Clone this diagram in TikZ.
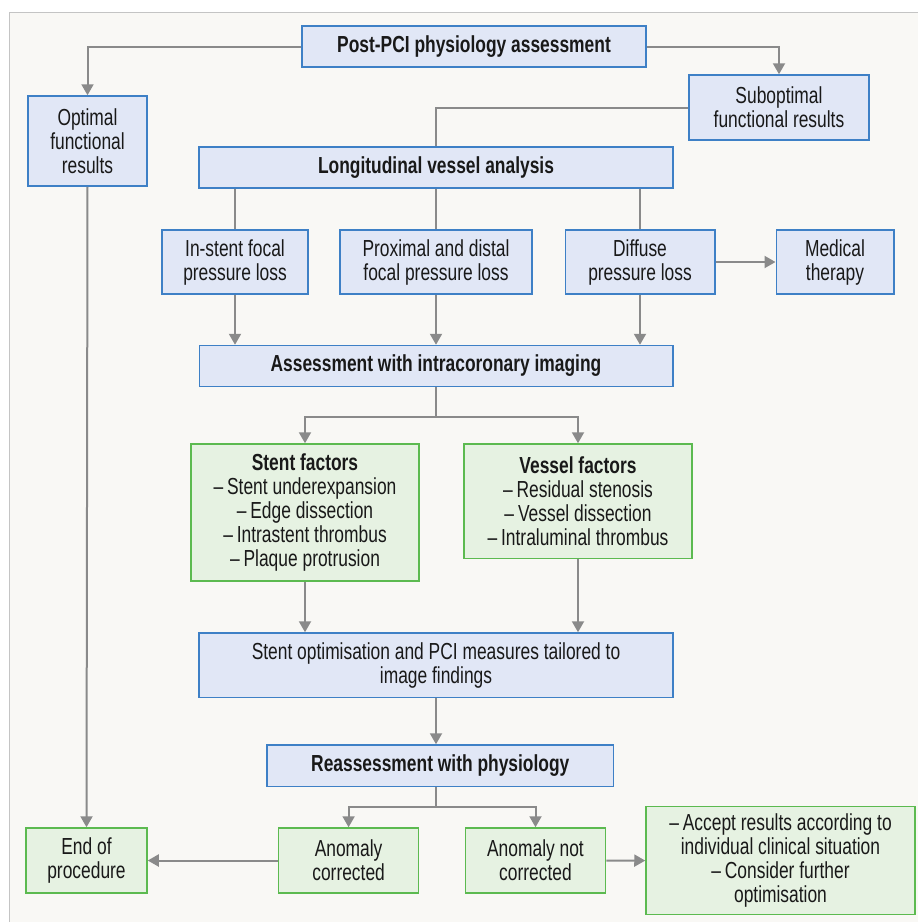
\documentclass[tikz,border=0pt]{standalone}
\usepackage{fontspec}
\setmainfont{Liberation Sans}[FakeStretch=0.75]
\usepackage{xcolor}
\usepackage{tikz}
\usetikzlibrary{arrows.meta,positioning,calc}

\definecolor{boxblue}{RGB}{225,231,246}
\definecolor{edgeblue}{RGB}{62,128,198}
\definecolor{boxgreen}{RGB}{230,242,226}
\definecolor{edgegreen}{RGB}{92,186,80}
\definecolor{arrowgray}{RGB}{138,138,138}
\definecolor{panelbg}{RGB}{249,248,245}
\definecolor{framegray}{RGB}{196,196,196}

\begin{document}
\begin{tikzpicture}[
    x=0.5pt,y=-0.5pt,
    block/.style={draw,line width=0.75pt,align=center,inner sep=2pt,text=black!90,font=\fontsize{11.6}{12}\selectfont},
    bluebox/.style={block,fill=boxblue,draw=edgeblue},
    greenbox/.style={block,fill=boxgreen,draw=edgegreen},
    conn/.style={draw=arrowgray,line width=1pt},
    >={Triangle[length=5.5pt,width=6pt]},
]
    \useasboundingbox (0,0) rectangle (918,922);
    \fill[white] (0,0) rectangle (918,922);
    \fill[panelbg] (9.7,12.3) rectangle (918,922);
    \draw[framegray,line width=0.65pt] (9.7,922) -- (9.7,12.3) -- (918,12.3);

    % top level
    \node[bluebox,minimum width=172pt,minimum height=20.5pt] (post) at (474,46.5) {\textbf{Post-PCI physiology assessment}};
    \node[bluebox,minimum width=59.5pt,minimum height=45pt] (optimal) at (87.5,141) {Optimal\\functional\\results};
    \node[bluebox,minimum width=90pt,minimum height=32.5pt] (subopt) at (779,107.5) {Suboptimal\\functional results};
    \node[bluebox,minimum width=237pt,minimum height=20.5pt] (longit) at (436,167.5) {\textbf{Longitudinal vessel analysis}};

    % pressure loss patterns
    \node[bluebox,minimum width=73pt,minimum height=32pt] (instent) at (235,262) {In-stent focal\\pressure loss};
    \node[bluebox,minimum width=96pt,minimum height=32pt] (proxdist) at (436,262) {Proximal and distal\\focal pressure loss};
    \node[bluebox,minimum width=74.75pt,minimum height=32pt] (diffuse) at (640,262) {Diffuse\\pressure loss};
    \node[bluebox,minimum width=58.75pt,minimum height=32pt] (medical) at (835,262) {Medical\\therapy};

    \node[bluebox,minimum width=236.75pt,minimum height=20.5pt] (imaging) at (436,366) {\textbf{Assessment with intracoronary imaging}};

    % factors
    \node[greenbox,minimum width=114pt,minimum height=68.5pt] (stent) at (305,512.5) {\textbf{Stent factors}\\\textendash\,Stent underexpansion\\\textendash\,Edge dissection\\\textendash\,Intrastent thrombus\\\textendash\,Plaque protrusion};
    \node[greenbox,minimum width=114pt,minimum height=57.3pt] (vessel) at (578,501.3) {\textbf{Vessel factors}\\\textendash\,Residual stenosis\\\textendash\,Vessel dissection\\\textendash\,Intraluminal thrombus};

    \node[bluebox,minimum width=236.8pt,minimum height=32.3pt] (stentopt) at (436,665.3) {Stent optimisation and PCI measures tailored to\\image findings};
    \node[bluebox,minimum width=173.3pt,minimum height=20.8pt] (reassess) at (440.3,765.8) {\textbf{Reassessment with physiology}};

    % outcome
    \node[greenbox,minimum width=60.5pt,minimum height=32.5pt] (endproc) at (86.5,860.5) {End of\\procedure};
    \node[greenbox,minimum width=70pt,minimum height=32.5pt] (anocorr) at (348.6,860.5) {Anomaly\\corrected};
    \node[greenbox,minimum width=70pt,minimum height=32.5pt] (anonot) at (535.5,860.5) {Anomaly not\\corrected};
    \node[greenbox,minimum width=134.5pt,minimum height=53.9pt] (accept) at (780.5,860.6) {\textendash\,Accept results according to\\individual clinical situation\\\textendash\,Consider further\\optimisation};

    \coordinate (split1) at (436,416.7);
    \coordinate (split2) at (436,806.7);

    % connectors
    \draw[conn,->] (post.west) -| (optimal.north);
    \draw[conn,->] (post.east) -| (subopt.north);
    \draw[conn] (subopt.west) -| (longit.north);
    \foreach \n in {instent,proxdist,diffuse} {
        \draw[conn] (\n |- longit.south) -- (\n.north);
        \draw[conn,->] (\n.south) -- (\n |- imaging.north);
    }
    \draw[conn,->] (diffuse.east) -- (medical.west);
    \draw[conn] (imaging.south) -- (split1);
    \draw[conn,->] (split1) -| (stent.north);
    \draw[conn,->] (split1) -| (vessel.north);
    \draw[conn,->] (stent.south) -- (stent |- stentopt.north);
    \draw[conn,->] (vessel.south) -- (vessel |- stentopt.north);
    \draw[conn,->] (stentopt.south) -- (stentopt |- reassess.north);
    \draw[conn] (split2 |- reassess.south) -- (split2);
    \draw[conn,->] (split2) -| (anocorr.north);
    \draw[conn,->] (split2) -| (anonot.north);
    \draw[conn,->] (anocorr.west) -- (endproc.east);
    \draw[conn,->] (anonot.east) -- (accept.west);
    \draw[conn,->] (optimal.south) -- (endproc.north);
\end{tikzpicture}
\end{document}
